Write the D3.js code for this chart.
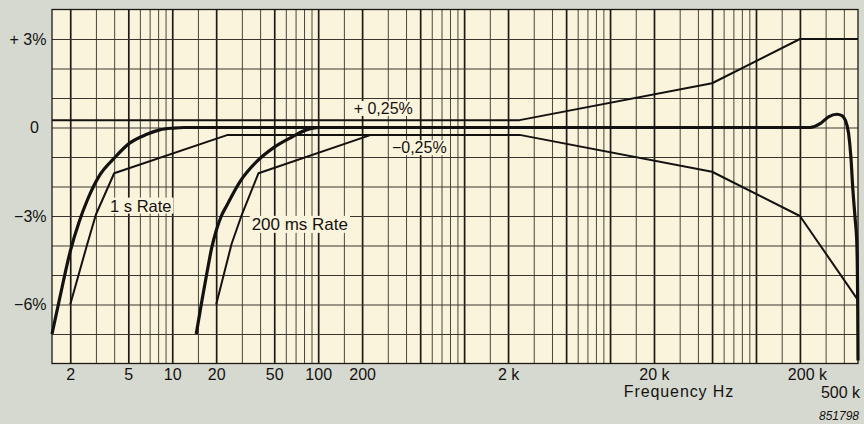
<!DOCTYPE html>
<html>
<head>
<meta charset="utf-8">
<script src="https://cdn.jsdelivr.net/npm/d3@7"></script>
<style>
  body { margin: 0; background: #d6d9d0; }
  svg { display: block; font-family: "Liberation Sans", Arial, Helvetica, sans-serif; }
</style>
</head>
<body>
<div id="chart"></div>
<script>
// Frequency response of the meter
// x: frequency in Hz (log scale), y: deviation in percent

// Axis ticks and labels
var freqTicks = [2, 5, 10, 20, 50, 100, 200, 2000, 20000, 200000, 500000];
var freqLabels = ["2", "5", "10", "20", "50", "100", "200", "2 k", "20 k", "200 k", "500 k"];
var pctTicks = [3, 0, -3, -6];
var pctLabels = ["+ 3%", "0", "\u22123%", "\u22126%"];

// Log paper: lines per decade, and the percent grid
var gridMults = [1, 1.5, 2, 3, 4, 5, 6, 7, 8, 9];
var boldMults = [1, 2, 5];
var gridPct = [3, 2, 1, 0, -1, -2, -3, -4, -5, -6, -7];

// Curves as [Hz, %]
// tolerance band, upper edge
var upperTol = [[1.5, 0.25], [2400, 0.25], [50000, 1.5], [200000, 3], [500000, 3]];
// tolerance band, lower edge for the 1 s rate (runs on to 500 k)
var lower1s = [[2, -6], [2.6, -4.0], [3, -2.95], [4, -1.55], [24, -0.25],
               [2400, -0.25], [50000, -1.5], [200000, -3], [500000, -5.85]];
// lower edge for the 200 ms rate
var lower200ms = [[20, -6], [25.5, -3.95], [30, -2.95], [39, -1.55], [230, -0.25]];
// measured response, 1 s rate
var resp1s = [[1.5, -7], [1.7, -5.75], [2, -4.2], [2.3, -3.2], [2.6, -2.5], [3.2, -1.6], [4, -1.04],
              [5.1, -0.53], [6.7, -0.23], [8.2, -0.08], [10.2, -0.02], [12, 0],
              [235000, 0], [275000, 0.13], [314000, 0.36], [358000, 0.45], [388000, 0.4],
              [409000, 0.25], [431000, -0.2], [447000, -1], [461000, -2.1], [478000, -3.1],
              [491000, -3.95], [498000, -6.2], [500000, -7.9]];
// measured response, 200 ms rate
var resp200ms = [[14.6, -7], [16, -5.85], [17.4, -4.85], [18.6, -4.1], [20, -3.5], [21.7, -3.0],
                 [23.6, -2.65], [29, -1.85], [38, -1.15], [49, -0.7], [64, -0.36], [83, -0.08], [100, 0]];

var W = 864, H = 424;
var paper = "#fbf4dc", ink = "#141210";

var svg = d3.select("#chart").append("svg")
    .attr("width", W)
    .attr("height", H);

// Scales
var x = d3.scaleLog().domain([1.5, 500000]).range([52, 858]);
var y = d3.scaleLinear().domain([-8, 4]).range([363.5, 9.5]);
var yTop = y(4), yBot = y(-8), xLeft = x(1.5), xRight = x(500000);

// Paper
svg.append("rect")
    .attr("x", xLeft).attr("y", yTop)
    .attr("width", xRight - xLeft).attr("height", yBot - yTop)
    .attr("fill", paper);

// Build vertical grid values
var thinFreq = [], boldFreq = [];
for (var e = 0; e <= 5; e++) {
  gridMults.forEach(function (m) {
    var f = m * Math.pow(10, e);
    if (f > 1.5 && f < 500000) {
      if (boldMults.indexOf(m) >= 0) boldFreq.push(f); else thinFreq.push(f);
    }
  });
}

function vGrid(vals, cls, width, color) {
  var g = svg.append("g")
      .attr("class", cls)
      .attr("transform", "translate(0," + yBot + ")")
      .call(d3.axisBottom(x).tickValues(vals).tickSize(-(yBot - yTop)).tickFormat(""));
  g.select(".domain").remove();
  g.selectAll("text").remove();
  g.selectAll("line").attr("stroke", color).attr("stroke-width", width);
}
vGrid(thinFreq, "grid thin", 1, "#4a453d");
vGrid(boldFreq, "grid bold", 1.7, "#1d1a16");

// Horizontal grid
var hg = svg.append("g")
    .attr("class", "grid h")
    .attr("transform", "translate(" + xLeft + ",0)")
    .call(d3.axisLeft(y).tickValues(gridPct).tickSize(-(xRight - xLeft)).tickFormat(""));
hg.select(".domain").remove();
hg.selectAll("text").remove();
hg.selectAll("line").attr("stroke", "#3a362f").attr("stroke-width", 1.2);

// Labels inside the plot, on a patch of paper
var notes = svg.append("g").attr("class", "notes");
function note(txt, f, p, size) {
  var t = notes.append("text")
      .attr("x", x(f)).attr("y", y(p))
      .attr("font-size", size)
      .attr("fill", ink)
      .text(txt);
  var b = t.node().getBBox();
  notes.insert("rect", function () { return t.node(); })
      .attr("x", b.x - 2).attr("y", b.y + 1)
      .attr("width", b.width + 4).attr("height", b.height - 2)
      .attr("fill", paper);
}
note("+ 0,25%", 175, 0.46, 16);
note("\u22120,25%", 320, -0.87, 16);
note("1 s Rate", 3.75, -2.85, 16.5);
note("200 ms Rate", 35, -3.47, 17);

// Border
svg.append("rect")
    .attr("x", xLeft).attr("y", yTop)
    .attr("width", xRight - xLeft).attr("height", yBot - yTop)
    .attr("fill", "none")
    .attr("stroke", "#1d1a16")
    .attr("stroke-width", 1.3);

// Curves
var straight = d3.line()
    .x(function (d) { return x(d[0]); })
    .y(function (d) { return y(d[1]); });
var smooth = d3.line()
    .x(function (d) { return x(d[0]); })
    .y(function (d) { return y(d[1]); })
    .curve(d3.curveMonotoneX);

[upperTol, lower1s, lower200ms].forEach(function (d) {
  svg.append("path").datum(d)
      .attr("d", straight)
      .attr("fill", "none")
      .attr("stroke", ink)
      .attr("stroke-width", 2)
      .attr("stroke-linejoin", "round");
});
[resp1s, resp200ms].forEach(function (d) {
  svg.append("path").datum(d)
      .attr("d", smooth)
      .attr("fill", "none")
      .attr("stroke", ink)
      .attr("stroke-width", 3.2)
      .attr("stroke-linejoin", "round");
});

// X axis labels
var xa = svg.append("g")
    .attr("class", "x axis")
    .attr("transform", "translate(0," + yBot + ")")
    .call(d3.axisBottom(x).tickValues(freqTicks).tickSize(0).tickPadding(5)
      .tickFormat(function (d, i) { return freqLabels[i]; }));
xa.select(".domain").remove();
xa.attr("font-family", null).attr("font-size", 16);
xa.selectAll("text")
    .attr("fill", ink)
    .attr("dx", function (d) { return d === 200000 ? 7 : (d === 500000 ? -18 : 0); })
    .attr("y", function (d) { return d === 500000 ? 23.5 : 5; });

// Y axis labels
var ya = svg.append("g")
    .attr("class", "y axis")
    .attr("transform", "translate(" + xLeft + ",0)")
    .call(d3.axisLeft(y).tickValues(pctTicks).tickSize(0).tickPadding(5.5)
      .tickFormat(function (d, i) { return pctLabels[i]; }));
ya.select(".domain").remove();
ya.attr("font-family", null).attr("font-size", 16);
ya.selectAll("text")
    .attr("fill", ink)
    .filter(function (d) { return d === 0; })
    .attr("text-anchor", "middle")
    .attr("x", -17.5);

// Axis title and figure number
svg.append("text")
    .attr("x", 679).attr("y", 397)
    .attr("text-anchor", "middle")
    .attr("font-size", 16)
    .attr("letter-spacing", 0.9)
    .attr("fill", ink)
    .text("Frequency Hz");

svg.append("text")
    .attr("x", 859).attr("y", 420)
    .attr("text-anchor", "end")
    .attr("font-size", 12)
    .attr("font-style", "italic")
    .attr("fill", ink)
    .text("851798");
</script>
</body>
</html>
